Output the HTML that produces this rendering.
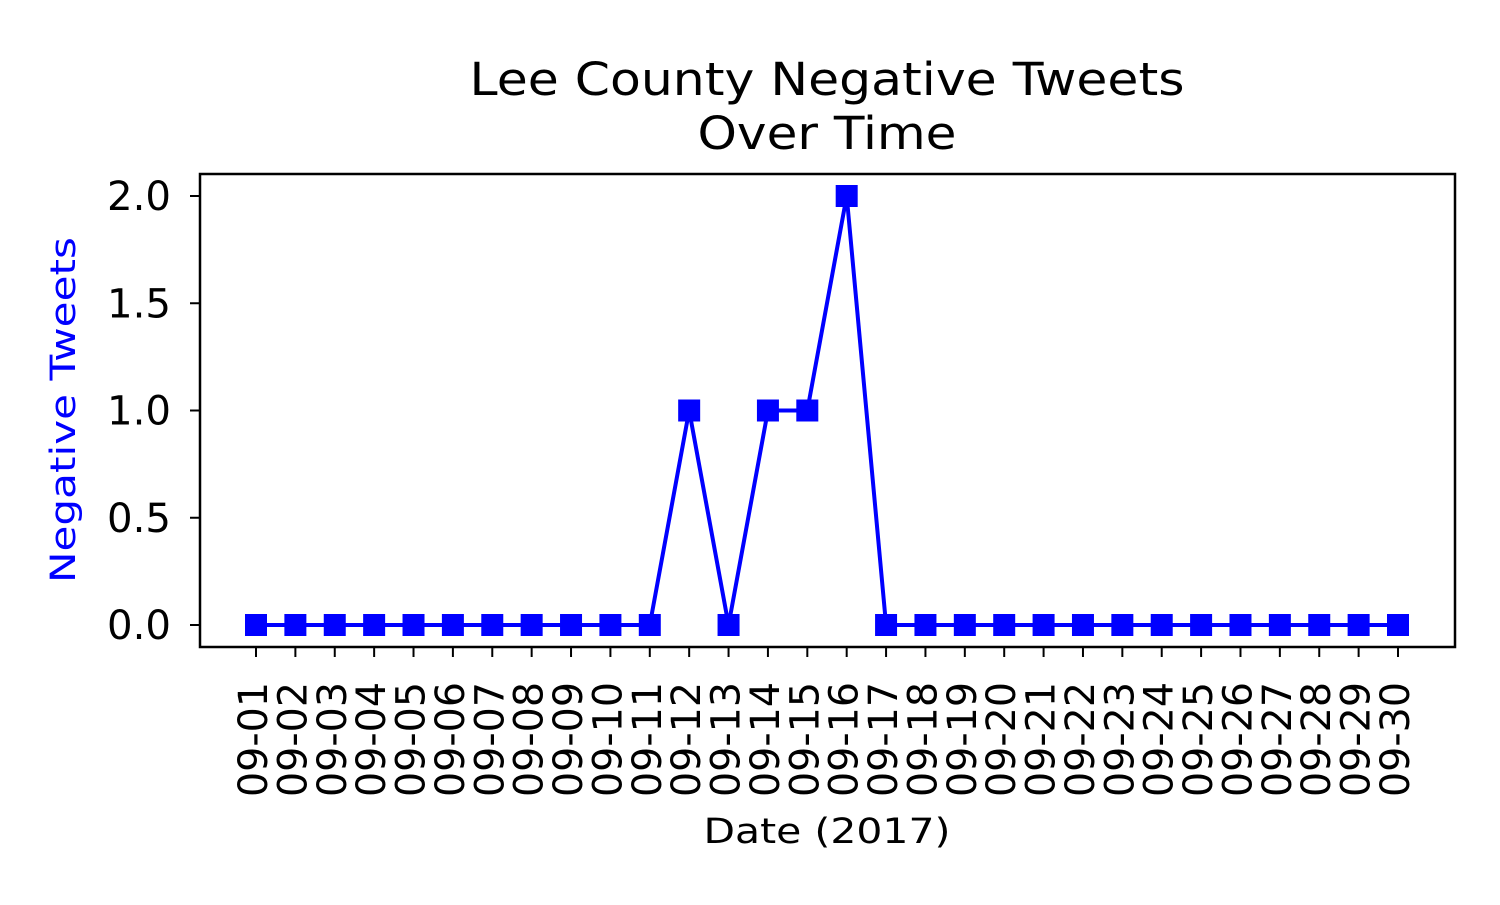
<!DOCTYPE html>
<html><head><meta charset="utf-8"><style>
body{margin:0;background:#fff}
svg text{font-family:"DejaVu Sans","Liberation Sans",sans-serif}
</style></head><body>
<svg width="1500" height="900">
<text x="827" y="95" font-size="45" text-anchor="middle" textLength="715" lengthAdjust="spacingAndGlyphs">Lee County Negative Tweets</text>
<text x="827" y="149" font-size="45" text-anchor="middle" textLength="259" lengthAdjust="spacingAndGlyphs">Over Time</text>
<g id="plot"></g>
<rect x="200" y="174" width="1255" height="473" fill="none" stroke="#000" stroke-width="2.5"/>
<text transform="translate(75,410) rotate(-90)" font-size="35" fill="#0000ff" text-anchor="middle" textLength="346" lengthAdjust="spacingAndGlyphs">Negative Tweets</text>
<text x="827" y="843" font-size="35" text-anchor="middle" textLength="247" lengthAdjust="spacingAndGlyphs">Date (2017)</text>
</svg>
<script>
const categories=["09-01","09-02","09-03","09-04","09-05","09-06","09-07","09-08","09-09","09-10","09-11","09-12","09-13","09-14","09-15","09-16","09-17","09-18","09-19","09-20","09-21","09-22","09-23","09-24","09-25","09-26","09-27","09-28","09-29","09-30"];
const values=[0,0,0,0,0,0,0,0,0,0,0,1,0,1,1,2,0,0,0,0,0,0,0,0,0,0,0,0,0,0];
const yTicks=[0,0.5,1,1.5,2];
const yTickLabels=["0.0","0.5","1.0","1.5","2.0"];
const NS="http://www.w3.org/2000/svg";
const g=document.getElementById('plot');
const x=i=>256+i*(1398-256)/29;
const y=v=>625-v*(625-196)/2;
function mk(t,a){const e=document.createElementNS(NS,t);for(const k in a)e.setAttribute(k,a[k]);g.appendChild(e);return e;}
yTicks.forEach((v,i)=>{
  const t=mk('line',{x1:190,x2:200,y1:y(v),y2:y(v),stroke:'#000','stroke-width':2});
  
  
  const l=mk('text',{x:171,y:y(v)+14,'font-size':40,'text-anchor':'end',textLength:64,lengthAdjust:'spacingAndGlyphs'});
  l.textContent=yTickLabels[i];
  
  
});
categories.forEach((c,i)=>{
  const t=mk('line',{x1:x(i),x2:x(i),y1:647,y2:657,stroke:'#000','stroke-width':2});
  
  
  const l=mk('text',{transform:`translate(${x(i)+11},682) rotate(-90)`,'font-size':40,'text-anchor':'end',textLength:115,lengthAdjust:'spacingAndGlyphs'});
  l.textContent=c;
  
  
});
const p=mk('polyline',{points:values.map((v,i)=>x(i)+','+y(v)).join(' '),fill:'none',stroke:'#0000ff','stroke-width':4});


values.forEach((v,i)=>{
  const r=mk('rect',{x:x(i)-11,y:y(v)-11,width:22,height:22,fill:'#0000ff'});
  
  
});
</script>
</body></html>
